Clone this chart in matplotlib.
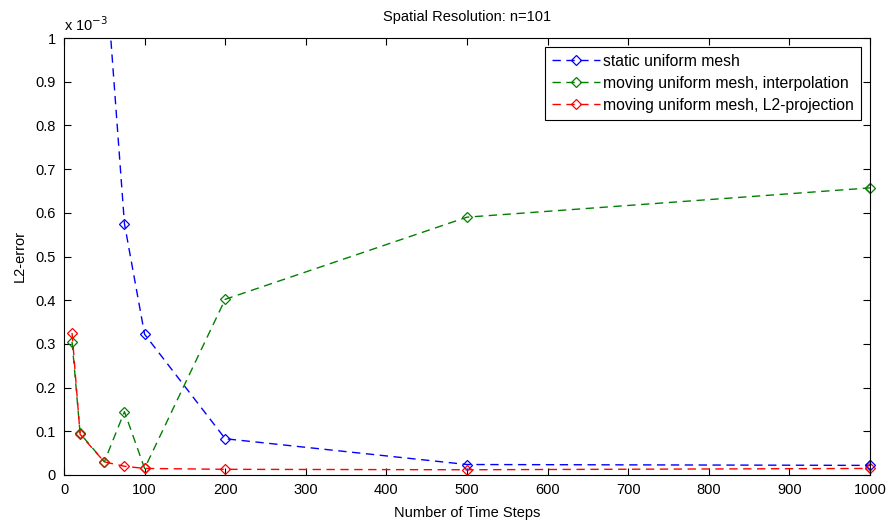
import matplotlib
matplotlib.use("Agg")
import matplotlib.pyplot as plt
from matplotlib.ticker import FuncFormatter, MultipleLocator

plt.rcParams['font.family'] = ['Liberation Sans', 'DejaVu Sans']

# Number of time steps used in each run
time_steps = [10, 20, 50, 75, 100, 200, 500, 1000]

# L2 errors for the three mesh strategies
err_static = [5.0e-3, 2.5e-3, 1.2e-3, 0.575e-3, 0.322e-3, 0.083e-3, 0.024e-3, 0.022e-3]
err_interp = [0.305e-3, 0.095e-3, 0.030e-3, 0.145e-3, 0.015e-3, 0.402e-3, 0.590e-3, 0.657e-3]
err_l2proj = [0.325e-3, 0.093e-3, 0.030e-3, 0.020e-3, 0.015e-3, 0.013e-3, 0.012e-3, 0.015e-3]

labels = ["static uniform mesh",
          "moving uniform mesh, interpolation",
          "moving uniform mesh, L2-projection"]
colors = ["#0000ff", "#008000", "#ff0000"]

fig = plt.figure(figsize=(8.88, 5.23), dpi=100)
ax = fig.add_axes([64/888, 48/523, 806/888, 437/523])

for ys, c, lab in zip([err_static, err_interp, err_l2proj], colors, labels):
    line, = ax.plot(time_steps, ys, linestyle=(0, (6, 4)), color=c, lw=1.0,
                    marker='D', markersize=5, markerfacecolor='none',
                    markeredgecolor=c, markeredgewidth=0.9, label=lab)

# keep markers on the right edge whole while the line is clipped at the top
for ys, c in zip([err_static, err_interp, err_l2proj], colors):
    ax.plot(time_steps[-1:], ys[-1:], linestyle='none', marker='D', markersize=5,
            markerfacecolor='none', markeredgecolor=c, markeredgewidth=0.9,
            clip_on=False)

ax.set_xlim(0, 1000)
ax.set_ylim(0, 1e-3)
ax.xaxis.set_major_locator(MultipleLocator(100))
ax.yaxis.set_major_locator(MultipleLocator(0.1e-3))
ax.yaxis.set_major_formatter(FuncFormatter(lambda v, p: "%g" % round(v * 1e3, 6)))
ax.tick_params(direction='in', length=5, width=0.8, labelsize=10.5,
               top=True, right=True, pad=6)
for s in ax.spines.values():
    s.set_linewidth(0.8)

ax.text(0.0, 1.01, r"x 10$^{-3}$", transform=ax.transAxes, fontsize=10.5,
        ha='left', va='bottom')
ax.set_title("Spatial Resolution: n=101", fontsize=10.5, pad=12)
ax.set_xlabel("Number of Time Steps", fontsize=10.5, labelpad=6)
ax.set_ylabel("L2-error", fontsize=10.5, labelpad=6)

leg = ax.legend(loc='upper right', fontsize=11.3, numpoints=1, fancybox=False,
                framealpha=1, edgecolor='black', handlelength=3.0,
                borderaxespad=0.55, labelspacing=0.45, handletextpad=0.25,
                borderpad=0.45)
leg.get_frame().set_linewidth(0.8)

fig.savefig("out.png", dpi=100)
